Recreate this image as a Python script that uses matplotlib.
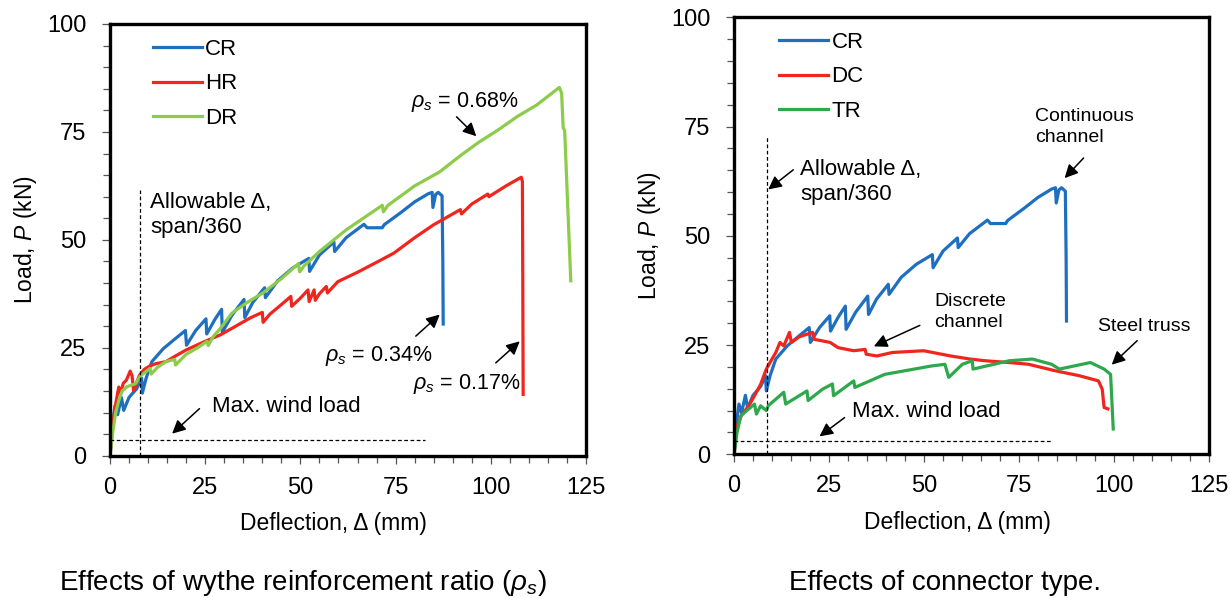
import matplotlib
matplotlib.use("Agg")
import matplotlib.pyplot as plt
from matplotlib.ticker import MultipleLocator

plt.rcParams["font.family"] = ["Liberation Sans", "DejaVu Sans"]
plt.rcParams["mathtext.fontset"] = "custom"
plt.rcParams["mathtext.rm"] = "Liberation Sans"
plt.rcParams["mathtext.it"] = "Liberation Sans:italic"

# ---- data ----
# CR specimen (same curve in both panels)
cr_x = [0, 0.5, 1.3, 2.0, 3.0, 3.6, 5.0, 7.0, 8.3, 8.5, 9.5, 11, 14, 17, 19.8, 20.1,
        22.5, 25.2, 25.4, 27.5, 29.3, 29.5, 32, 35.2, 35.4, 37.5, 40.6, 40.8, 44, 48,
        52.2, 52.4, 55, 58.8, 59.0, 62, 66.7, 67.5, 71.5, 72, 76.5, 80, 83.6, 84.6,
        84.8, 85.5, 86.2, 87.2, 87.4, 87.5]
cr_y = [0, 6, 11.5, 9.5, 13.5, 10.5, 13.5, 15.5, 18, 14.5, 18, 21.8, 24.8, 27, 29, 25.6,
        29, 31.7, 28.2, 31.5, 33.9, 28.6, 32.5, 36.2, 32, 35.5, 38.9, 36.6, 40.5, 43.5,
        45.7, 42.7, 46.5, 49.5, 47.3, 50.5, 53.6, 52.8, 52.8, 53.5, 56.4, 58.8, 60.7, 61,
        57.5, 60.5, 61, 60.2, 45, 30.5]

# HR specimen
hr_x = [0, 0.8, 1.5, 2.3, 2.8, 3.5, 4.3, 5.3, 5.8, 6.2, 7.0, 7.8, 9.0, 10.5, 12, 14.7,
        17, 20, 25, 29, 33, 37, 40, 40.2, 42, 45, 47.5, 47.7, 50, 52, 52.3, 53.6, 53.9,
        55, 56.8, 57.1, 59.8, 65, 70, 74.5, 80, 85, 90, 92, 92.3, 95, 99.2, 99.5, 104,
        108, 108.3, 108.4, 108.5]
hr_y = [0, 8, 12, 15.9, 14.5, 16.8, 17.5, 19.6, 18.5, 15, 17, 18.7, 20, 20.8, 21.3, 21.8,
        23, 24.5, 26.5, 28, 30, 32, 33.2, 30.9, 32.8, 35, 36.9, 34.6, 36.5, 38.4, 35.7,
        38.4, 36, 37.5, 39.2, 37.7, 40.3, 42.5, 44.8, 46.9, 50.5, 53.5, 56, 57, 56, 58.3,
        60.6, 60, 62.5, 64.5, 63.5, 40, 14.2]

# DR specimen
dr_x = [0, 0.8, 1.5, 2.3, 3.2, 4.5, 5.5, 6.7, 8.1, 9.5, 10.5, 10.8, 12.5, 14.7, 17, 17.2,
        20, 23, 25.5, 25.8, 27, 29, 32, 36, 40, 45, 49.5, 49.8, 51, 55, 62, 67, 71.5,
        71.8, 73, 80, 86.5, 92, 97, 102, 107, 112, 118, 118.6, 119, 119.4, 121]
dr_y = [0, 6, 10, 12.8, 15, 16, 16.3, 16.7, 18.6, 19.5, 20.2, 18.9, 20.5, 21.8, 22.3, 21,
        23.5, 25, 26.5, 25.5, 27.5, 29.5, 33, 35.5, 37.6, 41, 44.5, 42.6, 44, 47.3, 52.3,
        55.3, 58, 56.5, 58, 62.5, 65.7, 69.5, 72.7, 75.5, 78.6, 81.2, 85.3, 84, 76, 75.3,
        40.5]

# DC specimen
dc_x = [0, 0.8, 2, 3.9, 5.9, 7, 8.5, 10, 11, 12.1, 13.1, 14.6, 15.1, 17.2, 20.7, 21.1, 23,
        25.3, 27.4, 31.5, 34.5, 34.8, 37.6, 41.7, 49.9, 57, 62.1, 66.2, 72.4, 77.5, 84.6,
        90.8, 95.9, 96.9, 97.4, 98.4]
dc_y = [0, 6.5, 9, 11.1, 14.2, 16, 19.5, 21.8, 23.3, 25.6, 24.8, 27.9, 25.6, 26.9, 27.9,
        26.3, 26, 25.6, 24.4, 23.7, 24, 22.9, 22.5, 23.3, 23.7, 22.5, 21.8, 21.4, 21,
        20.6, 19.1, 18, 16.8, 14.9, 10.7, 10.4]

# TR specimen
tr_x = [0, 0.8, 1.8, 3.9, 5.4, 5.9, 7, 8.5, 9, 13.1, 13.6, 19.2, 19.5, 23.3, 25.9, 26.2,
        31.5, 31.8, 39.7, 51.9, 55.5, 56.5, 60.1, 62.7, 62.9, 72.4, 78.5, 83.6, 85.6,
        93.8, 97.4, 99.1, 99.8]
tr_y = [0, 5, 8.8, 10.4, 11.5, 9.2, 11.1, 10, 11.1, 14.2, 11.5, 14.5, 12.3, 14.9, 16.1,
        13.4, 16.8, 15.3, 18.3, 20.2, 20.6, 17.6, 20.6, 21.4, 19.5, 21.4, 21.8, 20.6, 19.5,
        21, 19.5, 18.3, 5.8]

# reference lines: allowable deflection (span/360) and max. wind load
allow_left, allow_left_top = 8.0, 61.5
wind_left, wind_left_end = 3.7, 82.7
allow_right, allow_right_top = 8.8, 72.9
wind_right, wind_right_end = 3.1, 83.4

blue = "#1F6FC0"
red = "#F0251E"
lgreen = "#8DCB4A"
dgreen = "#2EA84C"
LW = 2.3

fig = plt.figure(figsize=(12.3, 5.98), dpi=100)
ax1 = fig.add_axes([110 / 1230, 1 - 455.7 / 598, 476 / 1230, 431.7 / 598])
ax2 = fig.add_axes([734 / 1230, 1 - 454.3 / 598, 475 / 1230, 437 / 598])


def style_axes(ax):
    ax.set_xlim(0, 125)
    ax.set_ylim(0, 100)
    ax.xaxis.set_major_locator(MultipleLocator(25))
    ax.yaxis.set_major_locator(MultipleLocator(25))
    ax.xaxis.set_minor_locator(MultipleLocator(5))
    ax.yaxis.set_minor_locator(MultipleLocator(5))
    for s in ax.spines.values():
        s.set_linewidth(2.4)
        s.set_color("black")
    ax.tick_params(which="both", direction="out", color="#555555", width=0.9)
    ax.tick_params(which="major", length=6, labelsize=17)
    ax.tick_params(which="minor", length=5)
    ax.tick_params(axis="x", which="major", pad=9)
    ax.tick_params(axis="y", which="major", pad=11)
    ax.set_xlabel("Deflection, \u0394 (mm)", fontsize=16.5)
    ax.set_ylabel("Load, $P$ (kN)", fontsize=16.5)
    ax.xaxis.set_label_coords(0.47, -0.13)
    ax.yaxis.set_label_coords(-0.15, 0.5)


arrow = dict(arrowstyle="-|>", color="black", lw=1.1, mutation_scale=20,
             shrinkA=0, shrinkB=0)

# ---- left: effects of wythe reinforcement ratio ----
ax1.plot(cr_x, cr_y, color=blue, lw=LW, label="CR")
ax1.plot(hr_x, hr_y, color=red, lw=LW, label="HR")
ax1.plot(dr_x, dr_y, color=lgreen, lw=LW, label="DR")
ax1.plot([allow_left, allow_left], [0, allow_left_top], color="black", lw=0.9, ls=(0, (3, 2)))
ax1.plot([0, wind_left_end], [wind_left, wind_left], color="black", lw=0.9, ls=(0, (3, 2)))
style_axes(ax1)
ax1.legend(loc="upper left", bbox_to_anchor=(0.0897, 0.965), frameon=False,
           fontsize=16, handlelength=2.2, handletextpad=0.15, labelspacing=0.6,
           borderpad=0, borderaxespad=0)

ax1.text(10.6, 55.7, "Allowable \u0394,\nspan/360", fontsize=16, va="center",
         ha="left", linespacing=1.25)
ax1.text(26.7, 11.3, "Max. wind load", fontsize=16, va="center", ha="left")
ax1.annotate("", xy=(16.3, 5.1), xytext=(23.5, 10.9), arrowprops=arrow)
ax1.text(79, 82.0, "$\\rho_s$ = 0.68%", fontsize=15.5, va="center", ha="left")
ax1.annotate("", xy=(96.2, 74.0), xytext=(91.0, 78.5), arrowprops=arrow)
ax1.text(56.4, 23.0, "$\\rho_s$ = 0.34%", fontsize=15.5, va="center", ha="left")
ax1.annotate("", xy=(86.6, 32.7), xytext=(80.3, 27.7), arrowprops=arrow)
ax1.text(79.6, 16.7, "$\\rho_s$ = 0.17%", fontsize=15.5, va="center", ha="left")
ax1.annotate("", xy=(107.6, 26.5), xytext=(101.3, 21.5), arrowprops=arrow)

# ---- right: effects of connector type ----
ax2.plot(cr_x, cr_y, color=blue, lw=LW, label="CR")
ax2.plot(dc_x, dc_y, color=red, lw=LW, label="DC")
ax2.plot(tr_x, tr_y, color=dgreen, lw=LW, label="TR")
ax2.plot([allow_right, allow_right], [0, allow_right_top], color="black", lw=0.9, ls=(0, (3, 2)))
ax2.plot([0, wind_right_end], [wind_right, wind_right], color="black", lw=0.9, ls=(0, (3, 2)))
style_axes(ax2)
ax2.legend(loc="upper left", bbox_to_anchor=(0.0954, 0.966), frameon=False,
           fontsize=16, handlelength=2.2, handletextpad=0.15, labelspacing=0.6,
           borderpad=0, borderaxespad=0)

ax2.text(17.4, 62.4, "Allowable \u0394,\nspan/360", fontsize=16, va="center",
         ha="left", linespacing=1.25)
ax2.annotate("", xy=(9.0, 60.6), xytext=(15.6, 65.1), arrowprops=arrow)
ax2.text(79.3, 75.0, "Continuous\nchannel", fontsize=14, va="center", ha="left",
         linespacing=1.3)
ax2.annotate("", xy=(87.0, 63.2), xytext=(92.0, 67.8), arrowprops=arrow)
ax2.text(52.7, 32.6, "Discrete\nchannel", fontsize=14, va="center", ha="left",
         linespacing=1.3)
ax2.annotate("", xy=(36.8, 24.7), xytext=(48.9, 29.5), arrowprops=arrow)
ax2.text(95.9, 29.2, "Steel truss", fontsize=14, va="center", ha="left")
ax2.annotate("", xy=(99.4, 20.5), xytext=(106.1, 26.0), arrowprops=arrow)
ax2.text(31.0, 9.8, "Max. wind load", fontsize=16, va="center", ha="left")
ax2.annotate("", xy=(22.5, 4.1), xytext=(29.1, 8.4), arrowprops=arrow)

# ---- captions ----
fig.text(303 / 1230, 1 - 583 / 598, "Effects of wythe reinforcement ratio ($\\rho_s$)",
         fontsize=20, ha="center", va="center")
fig.text(945 / 1230, 1 - 583 / 598, "Effects of connector type.",
         fontsize=20, ha="center", va="center")

fig.savefig("out.png", dpi=100)
